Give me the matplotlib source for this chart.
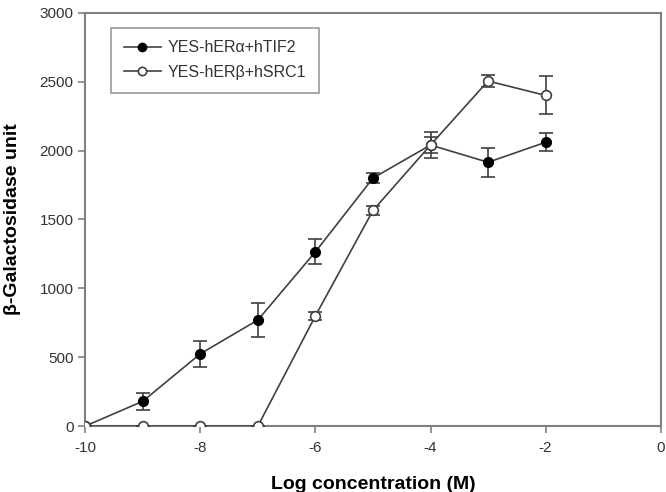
import matplotlib.pyplot as plt
from matplotlib.lines import Line2D

# ---------- data ----------
log_conc = [-10, -9, -8, -7, -6, -5, -4, -3, -2]

alpha_tif2 = [0, 180, 525, 770, 1265, 1800, 2040, 1915, 2060]
alpha_err = [0, 60, 95, 125, 90, 35, 60, 105, 65]

beta_src1 = [0, 0, 0, 0, 800, 1565, 2040, 2505, 2400]
beta_err = [0, 0, 0, 0, 30, 30, 95, 45, 138]

labels = ["YES-hER\u03b1+hTIF2", "YES-hER\u03b2+hSRC1"]

plt.rcParams['font.family'] = ['Liberation Sans', 'DejaVu Sans']
plt.rcParams['axes.unicode_minus'] = False

fig = plt.figure(figsize=(6.66, 4.92), dpi=100)
ax = fig.add_axes([0.128, 0.134, 0.864, 0.840])

line_col = "#404040"
ax.errorbar(log_conc, alpha_tif2, yerr=alpha_err, color=line_col, lw=1.2,
            marker="o", ms=7, mfc="black", mec="black",
            capsize=5, elinewidth=1.2, capthick=1.2, zorder=3)
ax.errorbar(log_conc, beta_src1, yerr=beta_err, color=line_col, lw=1.2,
            marker="o", ms=7, mfc="white", mec=line_col, mew=1.2,
            capsize=5, elinewidth=1.2, capthick=1.2, zorder=4)

ax.set_xlim(-10, 0)
ax.set_ylim(0, 3000)
ax.set_xticks(range(-10, 1, 2))
ax.set_yticks(range(0, 3001, 500))

for s in ax.spines.values():
    s.set_color("#808080")
    s.set_linewidth(1.5)
ax.tick_params(direction="out", length=5, width=1.2, color="#808080",
               labelsize=11, labelcolor="#333333")
ax.tick_params(axis="x", pad=6)

ax.set_xlabel("Log concentration (M)", fontsize=14, fontweight="bold")
ax.set_ylabel("\u03b2-Galactosidase unit", fontsize=14, fontweight="bold")
ax.xaxis.set_label_coords(0.5, -0.122)
ax.yaxis.set_label_coords(-0.112, 0.5)

# legend without error bars
handles = [
    Line2D([], [], color=line_col, lw=1.2, marker="o", ms=6, mfc="black", mec="black"),
    Line2D([], [], color=line_col, lw=1.2, marker="o", ms=6, mfc="white", mec=line_col, mew=1.2),
]
leg = ax.legend(handles, labels, loc="upper left", bbox_to_anchor=(0.045, 0.964),
                prop={"size": 11.5}, frameon=True, fancybox=False, handlelength=2.3,
                handletextpad=0.45, borderpad=0.8, labelspacing=0.6, borderaxespad=0)
leg.get_frame().set_edgecolor("#808080")
leg.get_frame().set_linewidth(1.2)
for t in leg.get_texts():
    t.set_color("#333333")

fig.savefig("out.png", dpi=100)
